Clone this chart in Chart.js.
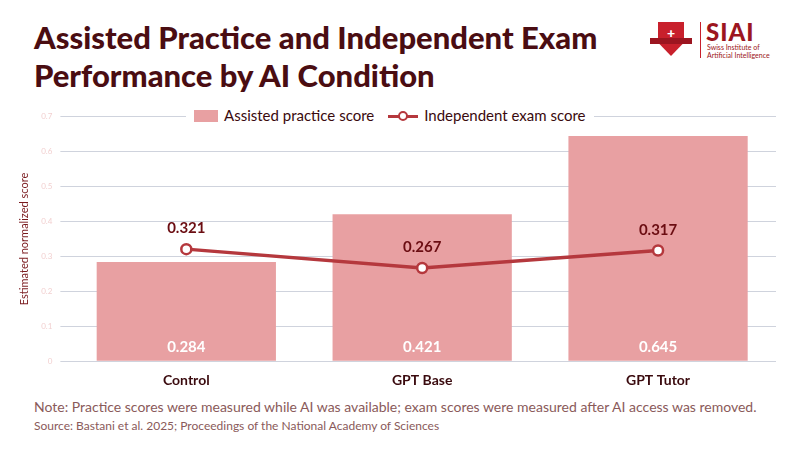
<!DOCTYPE html>
<html>
<head>
<meta charset="utf-8">
<script src="https://cdn.jsdelivr.net/npm/chart.js@4"></script>
<style>
  body { margin: 0; width: 800px; height: 450px; background: #fff; font-family: Lato, "Open Sans", sans-serif; position: relative; overflow: hidden; }
  h1 { position: absolute; left: 34px; top: 18px; margin: 0; font-size: 31px; line-height: 38px; color: #4a0d12; font-weight: 900; }
  .chart-container { position: absolute; left: 0; top: 104px; width: 800px; height: 288px; }
  .legend { position: absolute; top: 104px; left: 186px; height: 22px; padding: 0 8px; background: #fff; display: flex; align-items: center; gap: 14px; font-size: 15px; color: #3a0a0e; }
  .legend span.sw { display: inline-block; width: 24px; height: 12px; background: #e8a0a2; margin-right: 6px; vertical-align: -1px; }
  .legend span.ln { display: inline-block; position: relative; width: 30px; height: 12px; margin-right: 6px; vertical-align: -1px; }
  .legend span.ln::before { content: ''; position: absolute; left: 0; right: 0; top: 5px; height: 3px; background: #b5383d; }
  .legend span.ln::after { content: ''; position: absolute; left: 10px; top: 1px; width: 6px; height: 6px; border: 2.5px solid #b5383d; border-radius: 50%; background: #fff; }
  .note { position: absolute; left: 34px; top: 398px; font-size: 14px; color: #8a5a5a; }
  .source { position: absolute; left: 34px; top: 418px; font-size: 12px; color: #8a5a5a; }
  .logo { position: absolute; left: 650px; top: 20px; width: 120px; height: 40px; }
  .shield { position: absolute; left: 8px; top: 2px; width: 26px; height: 34px; background: #c8202c; clip-path: polygon(0 0,100% 0,100% 60%,50% 100%,0 60%); }
  .ribbon { position: absolute; left: 0; top: 18px; width: 42px; height: 6px; background: #9c1520; }
  .cross { position: absolute; left: 17px; top: 6px; color: #fff; font-size: 14px; font-weight: 900; line-height: 14px; }
  .bar { position: absolute; left: 50px; top: 2px; width: 1px; height: 36px; background: #c8202c; }
  .siai { position: absolute; left: 56px; top: -3px; font-size: 24px; font-weight: 900; color: #9c1520; letter-spacing: 1px; }
  .sub { position: absolute; left: 57px; top: 23px; font-size: 7px; line-height: 8px; color: #9c1520; }
</style>
</head>
<body>
<h1>Assisted Practice and Independent Exam<br>Performance by AI Condition</h1>
<div class="logo">
  <div class="shield"></div><div class="ribbon"></div><div class="cross">+</div>
  <div class="bar"></div>
  <div class="siai">SIAI</div>
  <div class="sub">Swiss Institute of<br>Artificial Intelligence</div>
</div>
<div class="chart-container"><canvas id="myChart"></canvas></div>
<div class="legend">
  <div><span class="sw"></span>Assisted practice score</div>
  <div><span class="ln"></span>Independent exam score</div>
</div>
<div class="note">Note: Practice scores were measured while AI was available; exam scores were measured after AI access was removed.</div>
<div class="source">Source: Bastani et al. 2025; Proceedings of the National Academy of Sciences</div>
<script>
// Chart values
const labels = ['Control', 'GPT Base', 'GPT Tutor'];
const practiceScores = [0.284, 0.421, 0.645];
const examScores = [0.321, 0.267, 0.317];

// Draw value labels on bars and points
const valueLabels = {
    id: 'valueLabels',
    afterDatasetsDraw(chart) {
        const ctx = chart.ctx;
        const yZero = chart.scales.y.getPixelForValue(0);
        ctx.save();
        ctx.font = 'bold 15px Lato, sans-serif';
        ctx.textAlign = 'center';
        chart.getDatasetMeta(0).data.forEach((bar, i) => {
            ctx.fillStyle = '#ffffff';
            ctx.fillText(practiceScores[i].toFixed(3), bar.x, yZero - 9);
        });
        chart.getDatasetMeta(1).data.forEach((pt, i) => {
            ctx.fillStyle = '#6b0d12';
            ctx.fillText(examScores[i].toFixed(3), pt.x, pt.y - 16);
        });
        ctx.restore();
    }
};

const config = {
    data: {
        labels: labels,
        datasets: [{
            type: 'bar',
            label: 'Assisted practice score',
            data: practiceScores,
            backgroundColor: '#e8a0a2',
            barPercentage: 0.76,
            categoryPercentage: 1,
            order: 2,
        }, {
            type: 'line',
            label: 'Independent exam score',
            data: examScores,
            borderColor: '#b5383d',
            borderWidth: 3.5,
            pointRadius: 5,
            pointBorderWidth: 2.5,
            pointBackgroundColor: '#ffffff',
            pointBorderColor: '#b5383d',
            order: 1,
        }],
    },
    options: {
        responsive: true,
        maintainAspectRatio: false,
        animation: false,
        layout: { padding: { left: 16, right: 24, top: 8 } },
        plugins: {
            legend: { display: false },
            tooltip: { enabled: false },
        },
        scales: {
            x: {
                grid: { display: false },
                border: { display: false },
                ticks: { color: '#3a0a0e', font: { size: 14, weight: 'bold', family: 'Lato' } },
            },
            y: {
                min: 0,
                max: 0.7,
                ticks: { stepSize: 0.1, color: '#f2d0d0', font: { size: 8, family: 'Lato' }, padding: 8 },
                grid: { color: '#cfd3dd' },
                border: { display: false },
                title: { display: true, text: 'Estimated normalized score', color: '#7a1a1e', font: { size: 11, family: 'Lato' }, padding: 2 },
            },
        },
    },
    plugins: [valueLabels],
};

const ctx = document.getElementById('myChart').getContext('2d');
const myChart = new Chart(ctx, config);
</script>
</body>
</html>
